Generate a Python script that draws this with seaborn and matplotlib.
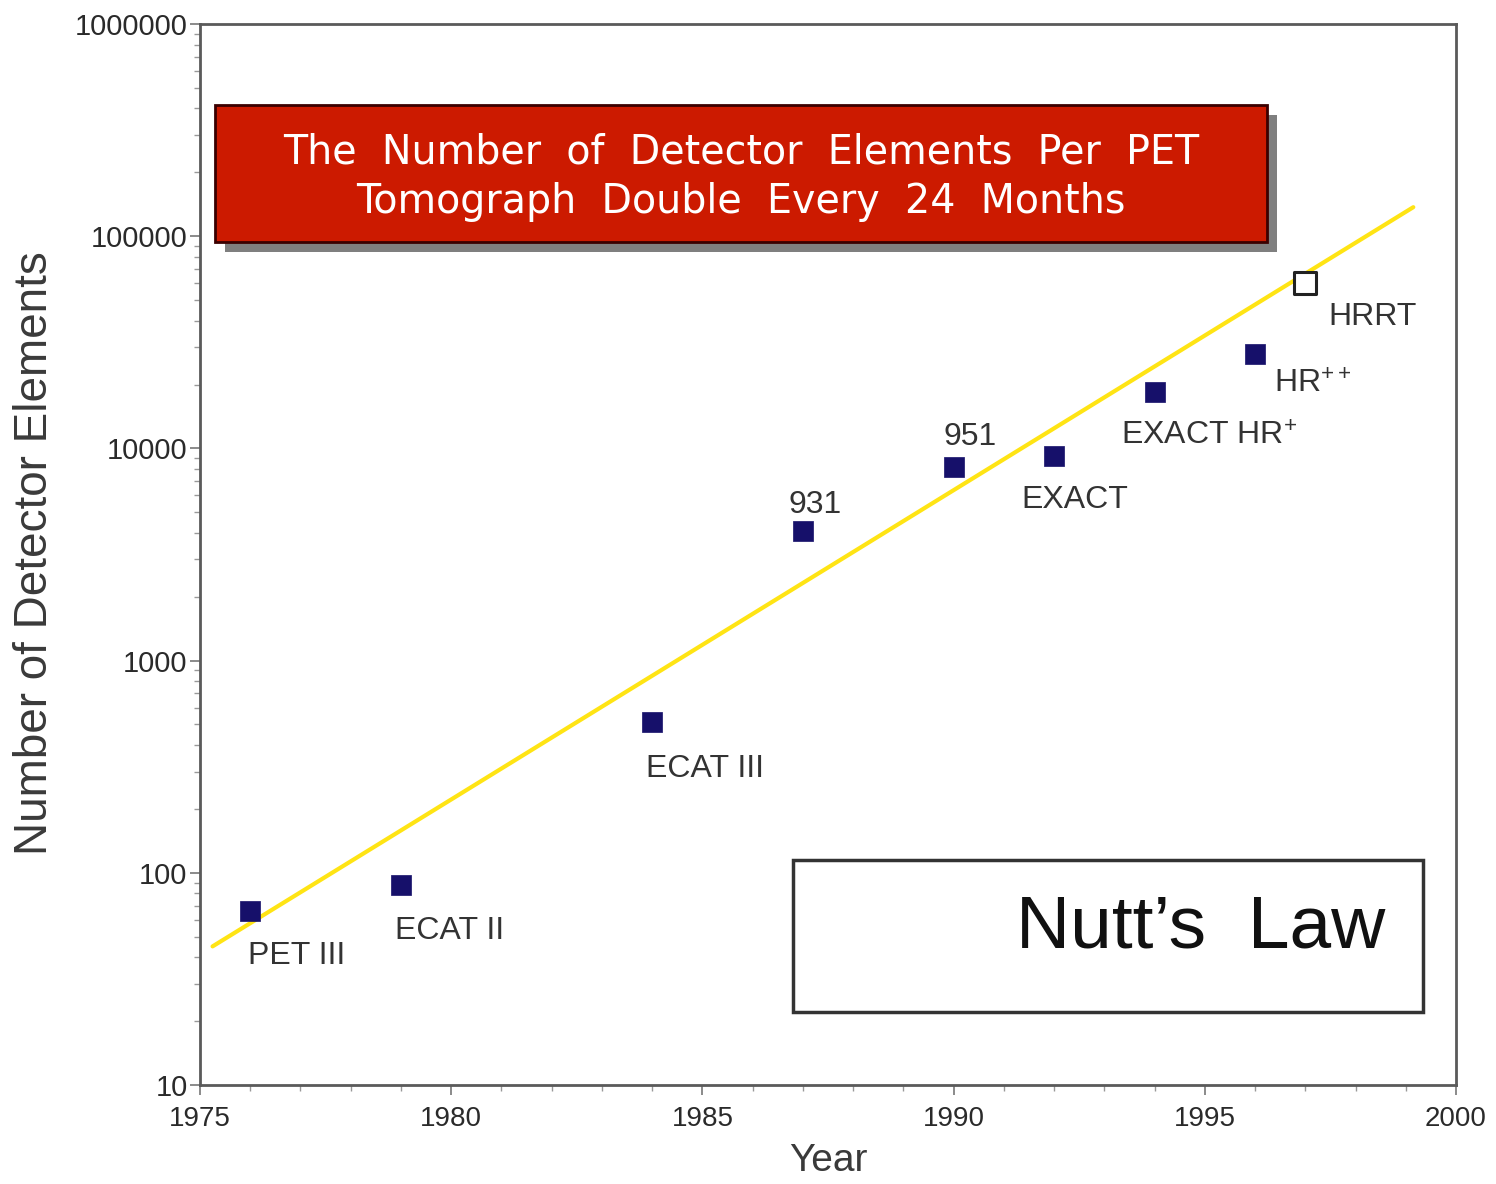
import matplotlib
matplotlib.use("Agg")
import matplotlib.pyplot as plt
from matplotlib.patches import Rectangle
from matplotlib.ticker import FixedLocator, LogLocator, NullFormatter, FuncFormatter
import seaborn as sns
import pandas as pd

# Scanner generations and their detector element counts
scanners = ["PET III", "ECAT II", "ECAT III", "931", "951", "EXACT",
            "EXACT HR$^{+}$", "HR$^{++}$", "HRRT"]
years = [1976, 1979, 1984, 1987, 1990, 1992, 1994, 1996, 1997]
elements = [66, 88, 512, 4096, 8192, 9216, 18432, 28000, 59904]
is_open = [False, False, False, False, False, False, False, False, True]

# Doubling-every-two-years trend line endpoints
trend_years = [1975.25, 1999.15]
trend_values = [45, 137000]

# Label placement offsets (pixels) relative to each marker
label_dx = [-2, -6, -6, -14, -10, -33, -34, 19, 23]
label_dy = [-45, -46, -47, 26, 30, -44, -45, -31, -34]

sns.set_style("ticks")
plt.rcParams["font.family"] = ["Liberation Sans", "DejaVu Sans"]
plt.rcParams["mathtext.default"] = "regular"

df = pd.DataFrame({"year": years, "elements": elements,
                   "scanner": scanners, "open": is_open})
trend = pd.DataFrame({"year": trend_years, "elements": trend_values})

fig = plt.figure(figsize=(14.96, 11.84), dpi=100)
ax = fig.add_axes([200 / 1496, 1 - 1085 / 1184, 1256 / 1496, 1061 / 1184])

sns.lineplot(data=trend, x="year", y="elements", ax=ax, color="#FFE414",
             linewidth=3, zorder=2)
sns.scatterplot(data=df[~df["open"]], x="year", y="elements", ax=ax,
                marker="s", s=210, color="#16106A", edgecolor="#16106A",
                linewidth=0.5, zorder=3)
sns.scatterplot(data=df[df["open"]], x="year", y="elements", ax=ax,
                marker="s", s=260, color="white", edgecolor="#222222",
                linewidth=2.2, zorder=3)

ax.set_yscale("log")
ax.set_xlim(1975, 2000)
ax.set_ylim(10, 1e6)

ax.xaxis.set_major_locator(FixedLocator([1975, 1980, 1985, 1990, 1995, 2000]))
ax.xaxis.set_minor_locator(FixedLocator(list(range(1975, 2001))))
ax.yaxis.set_major_locator(LogLocator(base=10, numticks=10))
ax.yaxis.set_minor_locator(LogLocator(base=10, subs=range(2, 10), numticks=20))
ax.yaxis.set_minor_formatter(NullFormatter())
ax.yaxis.set_major_formatter(FuncFormatter(lambda v, p: f"{int(round(v))}"))

for side in ["left", "bottom", "right", "top"]:
    ax.spines[side].set_visible(True)
    ax.spines[side].set_color("#5a5a5a")
    ax.spines[side].set_linewidth(2)

ax.tick_params(axis="both", which="major", direction="out", length=7,
               width=1.2, color="#777777", labelsize=20, labelcolor="#2a2a2a",
               pad=4)
ax.tick_params(axis="both", which="minor", direction="out", length=4,
               width=1.0, color="#999999")
ax.tick_params(axis="x", which="major", pad=8)
ax.tick_params(axis="y", which="major", pad=2, labelsize=21)

ax.set_xlabel("Year", fontsize=28, color="#3a3a3a", labelpad=8)
ax.set_ylabel("Number of Detector Elements", fontsize=33, color="#3a3a3a")

for name, x, y, dx, dy in zip(scanners, years, elements, label_dx, label_dy):
    ax.annotate(name, (x, y), xytext=(dx, dy), textcoords="offset pixels",
                ha="left", va="center", fontsize=23, color="#333333")

# Title banner with drop shadow
shadow = Rectangle((225 / 1496, 1 - 252 / 1184), 1052 / 1496, 137 / 1184,
                   transform=fig.transFigure, facecolor="#7f7f7f",
                   edgecolor="none", zorder=5)
banner = Rectangle((215 / 1496, 1 - 242 / 1184), 1052 / 1496, 137 / 1184,
                   transform=fig.transFigure, facecolor="#CC1A00",
                   edgecolor="#3a0000", linewidth=2, zorder=6)
fig.patches.extend([shadow, banner])
fig.text(741 / 1496, 1 - 152 / 1184,
         "The  Number  of  Detector  Elements  Per  PET",
         ha="center", va="center", fontsize=28.5, color="white",
         family=["DejaVu Sans"], zorder=7)
fig.text(741 / 1496, 1 - 202 / 1184,
         "Tomograph  Double  Every  24  Months",
         ha="center", va="center", fontsize=28.5, color="white",
         family=["DejaVu Sans"], zorder=7)

# Law name box
law_box = Rectangle((793 / 1496, 1 - 1012 / 1184), 630 / 1496, 152 / 1184,
                    transform=fig.transFigure, facecolor="white",
                    edgecolor="#333333", linewidth=2.5, zorder=5)
fig.patches.append(law_box)
fig.text(1385 / 1496, 1 - 928 / 1184, "Nutt\u2019s  Law", ha="right",
         va="center", fontsize=54, color="#111111", zorder=7)

# Fixed y label position near the left edge of the figure
ax.yaxis.set_label_coords(-(200 - 57) / 1256, (1085 - 553) / 1061)

fig.savefig("out.png", dpi=100)
